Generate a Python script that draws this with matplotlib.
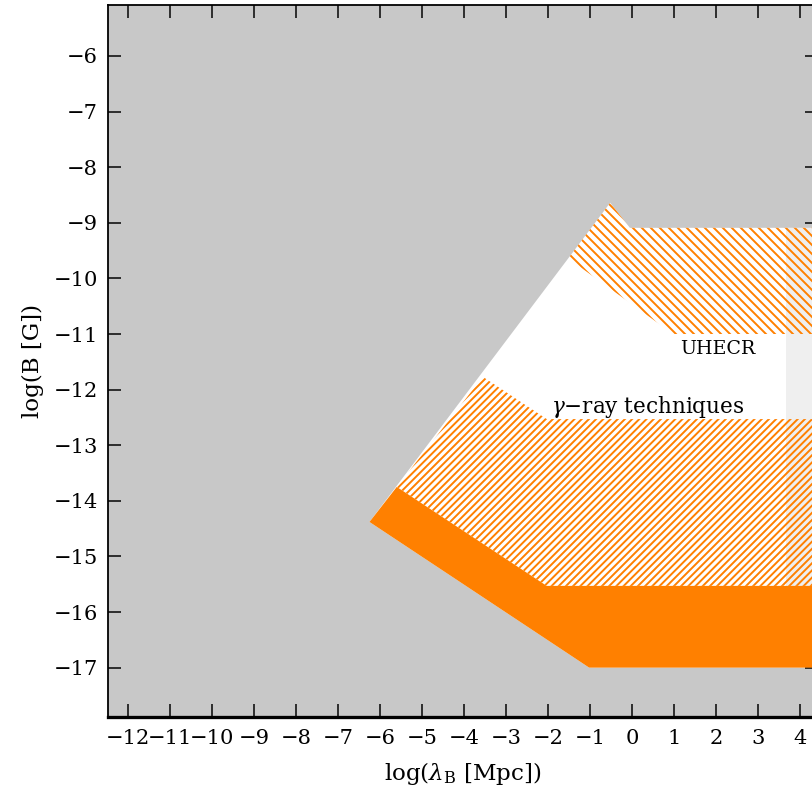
import matplotlib
matplotlib.use("Agg")
import matplotlib.pyplot as plt

# Boundaries (log lambda [Mpc], log B [G])
allowed_x = [-6.25, -0.52, -0.05, 4.5, 4.5, -1.02]
allowed_y = [-14.38, -8.64, -9.09, -9.09, -17.0, -17.0]

uhecr_x = [-1.52, -0.52, -0.05, 4.5, 4.5, 0.98]
uhecr_y = [-9.64, -8.64, -9.09, -9.09, -11.0, -11.0]

gamma_x = [-5.60, -3.55, -2.03, 4.5, 4.5, -2.03]
gamma_y = [-13.75, -11.77, -12.53, -12.53, -15.53, -15.53]

band_x = [-6.25, -5.60, -2.03, 4.5, 4.5, -1.02]
band_y = [-14.38, -13.75, -15.53, -15.53, -17.0, -17.0]

shade_x = [3.67, 4.5]
shade_y = [-15.53, -9.09]

xticks = list(range(-12, 5))
yticks = list(range(-17, -5))

dpi = 108
px = 72.0 / dpi   # points per pixel

plt.rcParams['font.family'] = ['DejaVu Serif']
plt.rcParams['mathtext.fontset'] = 'dejavuserif'
plt.rcParams['hatch.linewidth'] = 1.3

orange = '#ff8000'

fig = plt.figure(figsize=(812 / dpi, 796 / dpi), dpi=dpi)
ax = fig.add_axes([108 / 812, 79 / 796, 710 / 812, 712 / 796])
ax.set_facecolor('#c8c8c8')

ax.fill(allowed_x, allowed_y, color='white', lw=0, zorder=1)
ax.fill_between(shade_x, shade_y[0], shade_y[1], color='#efefef', lw=0, zorder=2)
# hatch spacing ~ dpi / (3 * n) pixels for n hatch characters
ax.fill(uhecr_x, uhecr_y, facecolor='none', edgecolor=orange, lw=0,
        hatch='\\' * 4, zorder=3)
ax.fill(gamma_x, gamma_y, facecolor='none', edgecolor=orange, lw=0,
        hatch='/' * 5, zorder=3)
ax.fill(band_x, band_y, color=orange, lw=0, zorder=4)

ax.text(2.05, -11.27, 'UHECR', ha='center', va='center', fontsize=19 * px,
        zorder=5)
ax.text(0.38, -12.31, r'$\gamma$$-$ray techniques', ha='center', va='center',
        fontsize=21.5 * px, zorder=5)

ax.set_xlim(-12.476, 4.429)
ax.set_ylim(-17.888, -5.083)
ax.set_xticks(xticks)
ax.set_yticks(yticks)
ax.set_xticklabels([str(v).replace('-', '\u2212') for v in xticks])
ax.set_yticklabels([str(v).replace('-', '\u2212') for v in yticks])
ax.tick_params(direction='in', length=13 * px, width=1.0, top=True,
               right=True, labelsize=21 * px, pad=10 * px)
ax.tick_params(axis='x', pad=12 * px)
for side in ['left', 'top', 'right']:
    ax.spines[side].set_linewidth(1.2)
ax.spines['bottom'].set_linewidth(2.2)

ax.set_xlabel(r'log($\lambda_{\rm B}$ [Mpc])', fontsize=23 * px, labelpad=12 * px)
ax.set_ylabel('log(B [G])', fontsize=23 * px, labelpad=10 * px)

fig.savefig('out.png', dpi=dpi)
